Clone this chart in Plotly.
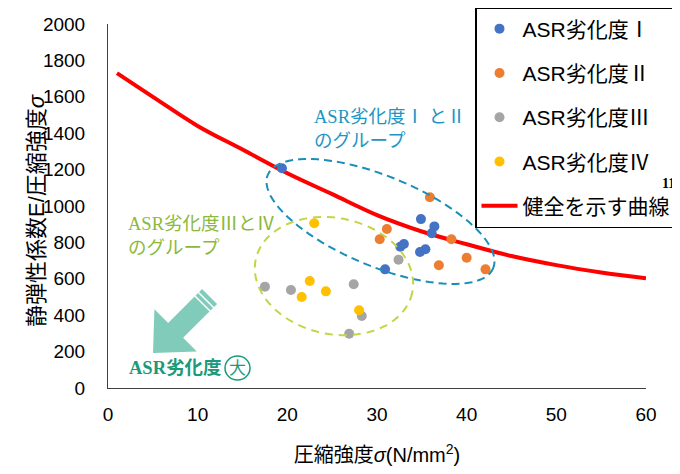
import numpy as np
import plotly.graph_objects as go

# ---- data ----
sigma_I = [19.4, 34.9, 36.4, 36.1, 32.6, 33.0, 34.8, 35.4, 30.9]
ratio_I = [1207, 928, 888, 850, 776, 791, 747, 762, 652]
sigma_II = [35.9, 31.1, 30.3, 38.3, 40.0, 36.9, 42.1]
ratio_II = [1048, 874, 817, 817, 716, 674, 652]
sigma_III = [32.4, 17.5, 20.4, 27.4, 28.3, 26.9]
ratio_III = [705, 557, 538, 570, 396, 298]
sigma_IV = [23.0, 22.5, 21.6, 24.3, 28.0]
ratio_IV = [905, 588, 500, 531, 427]
curve_sigma = [1, 5, 10, 15, 20, 25, 30, 35, 40, 45, 50, 55, 60]
curve_ratio = [1730, 1600, 1440, 1310, 1180, 1065, 950, 860, 790, 725, 675, 635, 603]

names = ["ASR劣化度Ⅰ", "ASR劣化度Ⅱ", "ASR劣化度Ⅲ", "ASR劣化度Ⅳ"]
curve_name = "健全を示す曲線"
x_ticks = [0, 10, 20, 30, 40, 50, 60]
y_ticks = list(range(0, 2001, 200))

colors = ["#4472C4", "#ED7D31", "#A5A5A5", "#FFC000"]

W, H = 680, 474
OFF = 8  # page body offset
PL, PR, PT, PB = 108, 646, 24, 388   # plot area on screen
ML, MT = PL - OFF, PT - OFF
MR = W - (PR - OFF)
MB = H - (PB - OFF)
PW, PH = PR - PL, PB - PT
SX = PW / 60.0     # px per x unit
SY = PH / 2000.0   # px per y unit

SANS = "Liberation Sans, Arial, Noto Sans CJK JP"
SERIF = "Liberation Serif, Noto Sans CJK JP"

fig = go.Figure()

fig.add_trace(go.Scatter(
    x=curve_sigma, y=curve_ratio, mode="lines", name=curve_name,
    line=dict(color="#FF0000", width=4, shape="spline"),
    legendrank=5, legendgroup="g5"))

for i, (xs, ys) in enumerate([(sigma_I, ratio_I), (sigma_II, ratio_II),
                              (sigma_III, ratio_III), (sigma_IV, ratio_IV)]):
    fig.add_trace(go.Scatter(
        x=xs, y=ys, mode="markers", name=names[i],
        marker=dict(color=colors[i], size=10),
        legendrank=i + 1, legendgroup="g%d" % i))


def to_data(px, py):
    return (px - PL) / SX, (PB - py) / SY


def px_paper(px, py):
    return (px - PL) / PW, (PB - py) / PH


def ellipse_path(cx, cy, a, b, ang):
    th = np.radians(ang)
    pts = []
    for t in np.linspace(0, 2 * np.pi, 91):
        dx = a * np.cos(t) * np.cos(th) - b * np.sin(t) * np.sin(th)
        dy = a * np.cos(t) * np.sin(th) + b * np.sin(t) * np.cos(th)
        pts.append((cx + dx / SX, cy - dy / SY))
    return "M " + " L ".join("%.4f,%.4f" % p for p in pts) + " Z"


shapes = []
# blue group ellipse
shapes.append(dict(type="path", xref="x", yref="y",
                   path=ellipse_path(30.39, 915, 122, 45, 22.5),
                   line=dict(color="#1B8EB8", width=2, dash="8px,5px")))
# green group ellipse
shapes.append(dict(type="path", xref="x", yref="y",
                   path=ellipse_path(25.2, 615, 80, 58, 12),
                   line=dict(color="#C3D545", width=2, dash="8px,6px")))

# arrow (pointing down-left)
tip = (153, 353)
u = (0.7071, -0.7071)
v = (0.7071, 0.7071)


def loc(s, w):
    px = tip[0] + s * u[0] + w * v[0]
    py = tip[1] + s * u[1] + w * v[1]
    return to_data(px, py)


poly = [(0, 0), (32, -30), (32, -10.6), (80, -10.6), (80, 10.6), (32, 10.6), (32, 30)]
pts = [loc(s, w) for s, w in poly]
shapes.append(dict(type="path", xref="x", yref="y",
                   path="M " + " L ".join("%.4f,%.4f" % p for p in pts) + " Z",
                   fillcolor="#80CBB9", line=dict(width=0)))
for s in (70, 75):
    a0 = loc(s, -11)
    a1 = loc(s, 11)
    shapes.append(dict(type="line", xref="x", yref="y",
                       x0=a0[0], y0=a0[1], x1=a1[0], y1=a1[1],
                       line=dict(color="white", width=1.5)))

# circle around 大
ccx, ccy = to_data(237.5, 368)
rx, ry = 12.5 / SX, 12 / SY
shapes.append(dict(type="circle", xref="x", yref="y",
                   x0=ccx - rx, x1=ccx + rx, y0=ccy - ry, y1=ccy + ry,
                   line=dict(color="#1A9A7A", width=1.5)))

annotations = []
bx, by = to_data(312, 129)
annotations.append(dict(xref="x", yref="y", x=bx, y=by, xanchor="left", yanchor="middle",
                        text="ASR劣化度Ⅰ とⅡ<br>のグループ", showarrow=False, align="left",
                        font=dict(family=SERIF, size=18.5, color="#1E96C3")))
gx, gy = to_data(126, 236)
annotations.append(dict(xref="x", yref="y", x=gx, y=gy, xanchor="left", yanchor="middle",
                        text="ASR劣化度ⅢとⅣ<br>のグループ", showarrow=False, align="left",
                        font=dict(family=SERIF, size=18.5, color="#8CB93C")))
tx, ty = to_data(127, 368)
annotations.append(dict(xref="x", yref="y", x=tx, y=ty, xanchor="left", yanchor="middle",
                        text="<b>ASR劣化度</b>", showarrow=False,
                        font=dict(family=SERIF, size=18.5, color="#1A9A7A")))
annotations.append(dict(xref="x", yref="y", x=ccx, y=ccy, xanchor="center", yanchor="middle",
                        text="大", showarrow=False,
                        font=dict(family=SERIF, size=17, color="#1A9A7A")))
# y-axis title
yx, yy = px_paper(37, 211)
annotations.append(dict(xref="paper", yref="paper", x=yx, y=yy,
                        xanchor="center", yanchor="middle", textangle=-90,
                        text="静弾性係数E/圧縮強度<i>σ</i>", showarrow=False,
                        font=dict(family=SANS, size=22, color="black")))
# reference mark
rx_, ry_ = px_paper(660, 184)
annotations.append(dict(xref="paper", yref="paper", x=rx_, y=ry_,
                        xanchor="left", yanchor="middle", text="<b>11)</b>", showarrow=False,
                        font=dict(family=SERIF, size=14, color="black")))

lx, ly = px_paper(475, 7)
fig.update_layout(
    width=W, height=H,
    margin=dict(l=ML, r=MR, t=MT, b=MB, autoexpand=False),
    paper_bgcolor="white", plot_bgcolor="white",
    showlegend=True,
    legend=dict(x=lx, y=ly, xanchor="left", yanchor="top",
                bgcolor="white", bordercolor="black", borderwidth=1.5,
                font=dict(family=SANS, size=21, color="black"),
                tracegroupgap=14, traceorder="grouped", entrywidth=200,
                itemwidth=36),
    shapes=shapes, annotations=annotations,
    xaxis=dict(range=[0, 60], tickvals=x_ticks, showgrid=False, zeroline=False,
               showline=True, linecolor="#404040", linewidth=1,
               ticks="outside", ticklen=9, tickcolor="rgba(0,0,0,0)",
               tickfont=dict(family=SANS, size=19, color="black"),
               title=dict(text="圧縮強度<i>σ</i>(N/mm<sup>2</sup>)", standoff=24,
                          font=dict(family=SANS, size=20, color="black"))),
    yaxis=dict(range=[0, 2000], tickvals=y_ticks, showgrid=False, zeroline=False,
               showline=True, linecolor="#404040", linewidth=1,
               ticks="outside", ticklen=18, tickcolor="rgba(0,0,0,0)",
               tickfont=dict(family=SANS, size=19, color="black")),
)

fig.write_html("out.html")
